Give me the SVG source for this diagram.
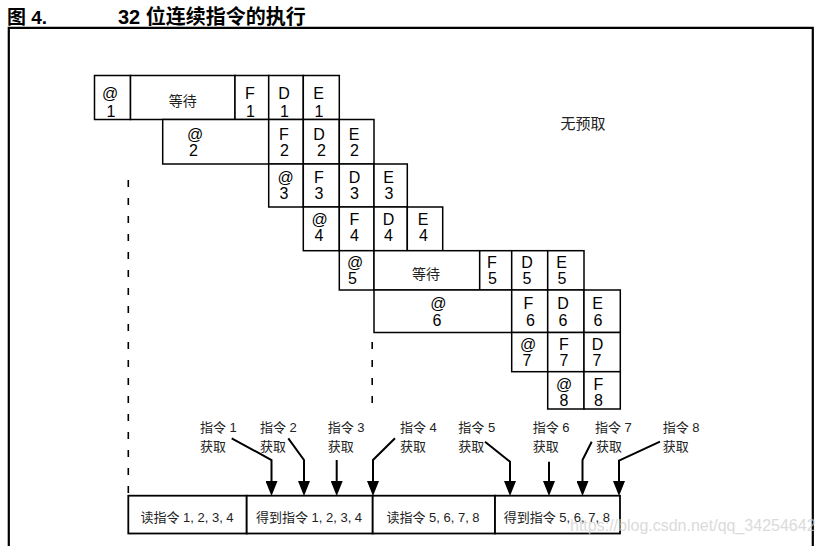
<svg xmlns="http://www.w3.org/2000/svg" width="823" height="546" viewBox="0 0 823 546">
<style>
.bg{fill:#fff}
.frame{fill:none;stroke:#000;stroke-width:2.2}
.cell{fill:#fff;stroke:#000;stroke-width:1.5}
.box{fill:#fff;stroke:#000;stroke-width:1.8}
.t{font-family:'Liberation Sans Narrow','Liberation Sans',Arial,sans-serif;font-size:16px;text-anchor:middle;fill:#000}
.cj{font-family:'Liberation Sans','Noto Sans CJK SC',sans-serif;font-size:14px;fill:#222;text-anchor:middle}
.lbl{font-family:'Liberation Sans','Noto Sans CJK SC',sans-serif;font-size:13px;fill:#222}
.bl{font-family:'Liberation Sans','Noto Sans CJK SC',sans-serif;font-size:13px;fill:#222;text-anchor:middle}
.title{font-family:'Liberation Sans','Noto Sans CJK SC',sans-serif;font-size:20px;font-weight:bold;fill:#000}
.dash{fill:none;stroke:#000;stroke-width:1.6;stroke-dasharray:7 11}
.arr{fill:none;stroke:#000;stroke-width:2;marker-end:url(#ah)}
.wm{font-family:'Liberation Sans',Arial,sans-serif;font-size:16px;fill:#cfcfcf;opacity:0.75}
</style>
<defs>
<marker id="ah" markerUnits="userSpaceOnUse" markerWidth="15" markerHeight="12" refX="0" refY="6" orient="auto" viewBox="0 0 15 12">
<path d="M0,0 L15,6 L0,12 z" fill="#000"/>
</marker>
</defs>
<rect class="bg" x="0" y="0" width="823" height="546"/>

<g id="title">
<text class="title" x="7" y="24" style="font-size:19px">图 4.</text>
<text class="title" x="118" y="24">32 位连续指令的执行</text>
</g>
<path id="frame" class="frame" d="M8.8,548 V27.8 H812.8 V548"/>

<g id="note"><text class="cj" x="583" y="128.5" style="font-size:15px">无预取</text></g>

<g id="row1">
<g id="c1a"><rect class="cell" x="94.5" y="75.5" width="36" height="44"/><text class="t"><tspan x="110" y="99">@</tspan><tspan x="111" y="117">1</tspan></text></g>
<g id="c1w"><rect class="cell" x="130.5" y="75.5" width="104.5" height="44"/><text class="cj" x="182.7" y="106">等待</text></g>
<g id="c1f"><rect class="cell" x="235" y="75.5" width="33.7" height="44"/><text class="t"><tspan x="250" y="99">F</tspan><tspan x="250.5" y="117">1</tspan></text></g>
<g id="c1d"><rect class="cell" x="268.7" y="75.5" width="34.6" height="44"/><text class="t"><tspan x="284" y="99">D</tspan><tspan x="284.5" y="117">1</tspan></text></g>
<g id="c1e"><rect class="cell" x="303.3" y="75.5" width="36" height="44"/><text class="t"><tspan x="318.5" y="99">E</tspan><tspan x="319" y="117">1</tspan></text></g>
</g>

<g id="row2">
<g id="c2a"><rect class="cell" x="162.7" y="119.5" width="106" height="44.5"/><text class="t"><tspan x="195" y="140">@</tspan><tspan x="193.5" y="156">2</tspan></text></g>
<g id="c2f"><rect class="cell" x="268.7" y="119.5" width="34.6" height="44.5"/><text class="t"><tspan x="284" y="140">F</tspan><tspan x="284.5" y="156">2</tspan></text></g>
<g id="c2d"><rect class="cell" x="303.3" y="119.5" width="36" height="44.5"/><text class="t"><tspan x="319" y="140">D</tspan><tspan x="321.5" y="156">2</tspan></text></g>
<g id="c2e"><rect class="cell" x="339.3" y="119.5" width="34.7" height="44.5"/><text class="t"><tspan x="354" y="140">E</tspan><tspan x="354.5" y="156">2</tspan></text></g>
</g>

<g id="row3">
<g id="c3a"><rect class="cell" x="268.7" y="164" width="34.6" height="43"/><text class="t"><tspan x="285.5" y="182.5">@</tspan><tspan x="284" y="198.5">3</tspan></text></g>
<g id="c3f"><rect class="cell" x="303.3" y="164" width="36" height="43"/><text class="t"><tspan x="319" y="182.5">F</tspan><tspan x="319" y="198.5">3</tspan></text></g>
<g id="c3d"><rect class="cell" x="339.3" y="164" width="34.7" height="43"/><text class="t"><tspan x="354.5" y="182.5">D</tspan><tspan x="354.5" y="198.5">3</tspan></text></g>
<g id="c3e"><rect class="cell" x="374" y="164" width="33.3" height="43"/><text class="t"><tspan x="388.5" y="182.5">E</tspan><tspan x="389" y="198.5">3</tspan></text></g>
</g>

<g id="row4">
<g id="c4a"><rect class="cell" x="303.3" y="207" width="36" height="43.7"/><text class="t"><tspan x="319.5" y="224.5">@</tspan><tspan x="319" y="241">4</tspan></text></g>
<g id="c4f"><rect class="cell" x="339.3" y="207" width="34.7" height="43.7"/><text class="t"><tspan x="354.5" y="224.5">F</tspan><tspan x="354.5" y="241">4</tspan></text></g>
<g id="c4d"><rect class="cell" x="374" y="207" width="33.3" height="43.7"/><text class="t"><tspan x="388.5" y="224.5">D</tspan><tspan x="388.5" y="241">4</tspan></text></g>
<g id="c4e"><rect class="cell" x="407.3" y="207" width="35.4" height="43.7"/><text class="t"><tspan x="423" y="224.5">E</tspan><tspan x="423.5" y="241">4</tspan></text></g>
</g>

<g id="row5">
<g id="c5a"><rect class="cell" x="339.3" y="250.7" width="34.7" height="39.3"/><text class="t"><tspan x="355" y="267.5">@</tspan><tspan x="352.5" y="284">5</tspan></text></g>
<g id="c5w"><rect class="cell" x="374" y="250.7" width="105.7" height="39.3"/><text class="cj" x="426" y="278.5">等待</text></g>
<g id="c5f"><rect class="cell" x="479.7" y="250.7" width="32" height="39.3"/><text class="t"><tspan x="492" y="267.5">F</tspan><tspan x="492.5" y="284">5</tspan></text></g>
<g id="c5d"><rect class="cell" x="511.7" y="250.7" width="36" height="39.3"/><text class="t"><tspan x="527" y="267.5">D</tspan><tspan x="527" y="284">5</tspan></text></g>
<g id="c5e"><rect class="cell" x="547.7" y="250.7" width="36.3" height="39.3"/><text class="t"><tspan x="561.5" y="267.5">E</tspan><tspan x="562" y="284">5</tspan></text></g>
</g>

<g id="row6">
<g id="c6a"><rect class="cell" x="374" y="290" width="137.7" height="42.5"/><text class="t"><tspan x="438.3" y="309">@</tspan><tspan x="437" y="325.5">6</tspan></text></g>
<g id="c6f"><rect class="cell" x="511.7" y="290" width="36" height="42.5"/><text class="t"><tspan x="528.5" y="309">F</tspan><tspan x="530.5" y="325.5">6</tspan></text></g>
<g id="c6d"><rect class="cell" x="547.7" y="290" width="36.3" height="42.5"/><text class="t"><tspan x="563" y="309">D</tspan><tspan x="563" y="325.5">6</tspan></text></g>
<g id="c6e"><rect class="cell" x="584" y="290" width="36.3" height="42.5"/><text class="t"><tspan x="597.5" y="309">E</tspan><tspan x="598" y="325.5">6</tspan></text></g>
</g>

<g id="row7">
<g id="c7a"><rect class="cell" x="511.7" y="332.5" width="36" height="39.2"/><text class="t"><tspan x="528" y="349.5">@</tspan><tspan x="527" y="365.5">7</tspan></text></g>
<g id="c7f"><rect class="cell" x="547.7" y="332.5" width="36.3" height="39.2"/><text class="t"><tspan x="564" y="349.5">F</tspan><tspan x="564" y="365.5">7</tspan></text></g>
<g id="c7d"><rect class="cell" x="584" y="332.5" width="36.3" height="39.2"/><text class="t"><tspan x="597.5" y="349.5">D</tspan><tspan x="597" y="365.5">7</tspan></text></g>
</g>

<g id="row8">
<g id="c8a"><rect class="cell" x="547.7" y="371.7" width="36.3" height="37.3"/><text class="t"><tspan x="564" y="389.5">@</tspan><tspan x="564" y="405.5">8</tspan></text></g>
<g id="c8f"><rect class="cell" x="584" y="371.7" width="36.3" height="37.3"/><text class="t"><tspan x="598.5" y="389.5">F</tspan><tspan x="598.5" y="405.5">8</tspan></text></g>
</g>

<g id="bus">
<g id="b1"><rect class="box" x="128.3" y="495.7" width="118.4" height="37.8"/><text class="bl" x="187" y="521.5">读指令 1, 2, 3, 4</text></g>
<g id="b2"><rect class="box" x="246.7" y="495.7" width="126" height="37.8"/><text class="bl" x="309" y="521.5">得到指令 1, 2, 3, 4</text></g>
<g id="b3"><rect class="box" x="372.7" y="495.7" width="122.3" height="37.8"/><text class="bl" x="433" y="521.5">读指令 5, 6, 7, 8</text></g>
<g id="b4"><rect class="box" x="495" y="495.7" width="125" height="37.8"/><text class="bl" x="556.8" y="521.5">得到指令 5, 6, 7, 8</text></g>
</g>

<g id="labels">
<g id="l1"><text class="lbl"><tspan x="200" y="431.5">指令 1</tspan><tspan x="200" y="451">获取</tspan></text></g>
<g id="l2"><text class="lbl"><tspan x="260" y="431.5">指令 2</tspan><tspan x="260" y="451">获取</tspan></text></g>
<g id="l3"><text class="lbl"><tspan x="327.7" y="431.5">指令 3</tspan><tspan x="327.7" y="451">获取</tspan></text></g>
<g id="l4"><text class="lbl"><tspan x="400" y="431.5">指令 4</tspan><tspan x="400" y="451">获取</tspan></text></g>
<g id="l5"><text class="lbl"><tspan x="458.3" y="431.5">指令 5</tspan><tspan x="458.3" y="451">获取</tspan></text></g>
<g id="l6"><text class="lbl"><tspan x="532.7" y="431.5">指令 6</tspan><tspan x="532.7" y="451">获取</tspan></text></g>
<g id="l7"><text class="lbl"><tspan x="595" y="431.5">指令 7</tspan><tspan x="596" y="451">获取</tspan></text></g>
<g id="l8"><text class="lbl"><tspan x="662.7" y="431.5">指令 8</tspan><tspan x="662.7" y="451">获取</tspan></text></g>
</g>

<g id="connectors">
<path class="dash" d="M128.3,180 V495"/>
<path class="dash" d="M372.2,342 V404"/>
<path class="arr" d="M231.7,438.3 L271.5,460 V481"/>
<path class="arr" d="M288.3,438.3 L304,460 V481"/>
<path class="arr" d="M336.7,460 V481"/>
<path class="arr" d="M395,438.3 L373,460 V481"/>
<path class="arr" d="M485,441.7 L510,461.7 V481"/>
<path class="arr" d="M549,461.7 V481"/>
<path class="arr" d="M591.7,441.7 L582.5,460 V481"/>
<path class="arr" d="M660,441.7 L619,460.7 V481"/>
</g>

<text class="wm" x="570" y="531">https://blog.csdn.net/qq_34254642</text>
</svg>
